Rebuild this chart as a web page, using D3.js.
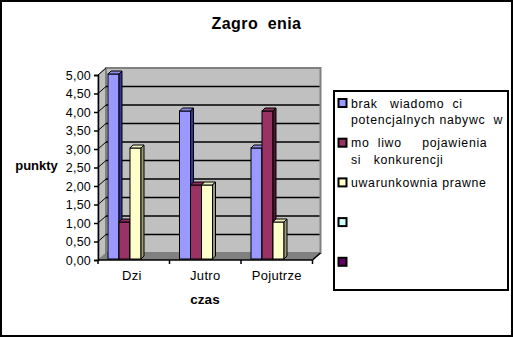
<!DOCTYPE html>
<html><head><meta charset="utf-8">
<script src="https://cdn.jsdelivr.net/npm/d3@7"></script>
<style>
html,body{margin:0;padding:0;background:#fff;}
svg{display:block;font-family:"Liberation Sans",Arial,sans-serif;}
text{white-space:pre;}
</style></head>
<body>
<svg id="c" width="513" height="337"></svg>
<script>
// ---- data ----
const title = "Zagro  enia";
const yTitle = "punkty";
const xTitle = "czas";
const categories = ["Dzi ", "Jutro", "Pojutrze"];
const seriesNames = [
  ["brak   wiadomo  ci", "potencjalnych nabywc  w"],
  ["mo  liwo     pojawienia", "si   konkurencji"],
  ["uwarunkownia prawne"],
  [""],
  [""]
];
const seriesColors = ["#9999FF", "#993366", "#FFFFCC", "#CCFFFF", "#660066"];
const seriesTop = ["#8a8ae6", "#8a2e5c", "#eeeebb", "#b8e6e6", "#5c005c"];
const seriesSide = ["#333399", "#4d1933", "#999977", "#669999", "#330033"];
const values = [
  [5, 1, 3],   // Dziś
  [4, 2, 2],   // Jutro
  [3, 4, 1]    // Pojutrze
];
// values[cat][series]
const yTicks = [0, 0.5, 1, 1.5, 2, 2.5, 3, 3.5, 4, 4.5, 5];
const fmt = v => v.toFixed(2).replace(".", ",");

// ---- layout ----
const svg = d3.select("#c");
const DX = 8, DY = -7;
const x = d3.scaleBand().domain(categories).range([98, 312.5]).padding(0);
const xs = d3.scaleBand().domain([0, 1, 2]).range([10, 43]).padding(0);
const y = d3.scaleLinear().domain([0, 5]).range([260, 75]);

// outer border
svg.append("rect").attr("x", 1).attr("y", 1).attr("width", 511).attr("height", 335)
  .attr("fill", "#fff").attr("stroke", "#000").attr("stroke-width", 2);

// title
svg.append("text").attr("x", 256.5).attr("y", 28.5).attr("text-anchor", "middle")
  .attr("font-size", 16).attr("font-weight", "bold").attr("letter-spacing", 0.4).text(title);

const x0 = x.range()[0], x1 = x.range()[1];
const yTop = y(5), yBot = y(0);

// left side wall
svg.append("polygon")
  .attr("points", [[x0, yTop], [x0 + DX, yTop + DY], [x0 + DX, yBot + DY], [x0, yBot]].join(" "))
  .attr("fill", "#c0c0c0").attr("stroke", "#808080").attr("stroke-width", 1);
// back wall
svg.append("rect").attr("x", x0 + DX).attr("y", yTop + DY)
  .attr("width", x1 - x0).attr("height", yBot - yTop)
  .attr("fill", "#c0c0c0").attr("stroke", "#808080").attr("stroke-width", 2);
// floor
svg.append("polygon")
  .attr("points", [[x0, yBot], [x0 + DX, yBot + DY], [x1 + DX, yBot + DY], [x1, yBot]].join(" "))
  .attr("fill", "#808080");

// gridlines on back wall
svg.append("g").selectAll("line").data(yTicks.filter(v => v > 0 && v < 5)).join("line")
  .attr("x1", x0 + DX).attr("x2", x1 + DX - 1)
  .attr("y1", d => y(d) + DY).attr("y2", d => y(d) + DY)
  .attr("stroke", "#000").attr("stroke-width", 1.5);
// diagonal tick lines on side wall
svg.append("g").selectAll("line").data(yTicks.filter(v => v > 0)).join("line")
  .attr("x1", x0).attr("x2", x0 + DX)
  .attr("y1", d => y(d)).attr("y2", d => y(d) + DY)
  .attr("stroke", "#000").attr("stroke-width", 1);

// bars
const bw = xs.bandwidth(), d3x = 3, d3y = -3;
const gb = svg.append("g");
categories.forEach((c, ci) => {
  values[ci].forEach((v, si) => {
    const bx = x(c) + xs(si);
    const yt = y(v) - 1, yb = yBot - 1;
    gb.append("rect").attr("x", bx).attr("y", yt).attr("width", bw).attr("height", yb - yt)
      .attr("fill", seriesColors[si]).attr("stroke", "#000").attr("stroke-width", 1);
    gb.append("polygon")
      .attr("points", [[bx, yt], [bx + d3x, yt + d3y], [bx + bw + d3x, yt + d3y], [bx + bw, yt]].join(" "))
      .attr("fill", seriesTop[si]).attr("stroke", "#000").attr("stroke-width", 1);
    gb.append("polygon")
      .attr("points", [[bx + bw, yt], [bx + bw + d3x, yt + d3y], [bx + bw + d3x, yb + d3y], [bx + bw, yb]].join(" "))
      .attr("fill", seriesSide[si]).attr("stroke", "#000").attr("stroke-width", 1);
  });
});

// y axis
const yAxis = d3.axisLeft(y).tickValues(yTicks).tickFormat(fmt).tickSize(4).tickPadding(3);
const gy = svg.append("g").attr("transform", `translate(${x0},0)`).call(yAxis);
gy.select(".domain").attr("stroke-width", 1.5);
gy.selectAll(".tick line").attr("stroke-width", 1.5);
gy.selectAll("text").attr("font-size", 12.5).attr("letter-spacing", 0.2)
  .attr("font-family", "Liberation Sans, Arial, sans-serif").attr("fill", "#000");

// x axis
const gx = svg.append("g");
gx.append("line").attr("x1", x0).attr("x2", x1).attr("y1", yBot).attr("y2", yBot)
  .attr("stroke", "#000").attr("stroke-width", 1.5);
gx.append("line").attr("x1", x1).attr("x2", x1 + DX).attr("y1", yBot).attr("y2", yBot + DY)
  .attr("stroke", "#000").attr("stroke-width", 1.5);
const bounds = categories.map(c => x(c)).concat([x1]);
gx.selectAll("line.t").data(bounds).join("line").attr("class", "t")
  .attr("x1", d => d).attr("x2", d => d).attr("y1", yBot).attr("y2", yBot + 4)
  .attr("stroke", "#000").attr("stroke-width", 1.5);
gx.selectAll("text").data(categories).join("text")
  .attr("x", d => x(d) + x.bandwidth() / 2).attr("y", 280)
  .attr("text-anchor", "middle").attr("font-size", 13).attr("letter-spacing", 0.3).text(d => d);

// axis titles
svg.append("text").attr("x", 36.5).attr("y", 170).attr("text-anchor", "middle")
  .attr("font-size", 13).attr("font-weight", "bold").text(yTitle);
svg.append("text").attr("x", 205).attr("y", 303.5).attr("text-anchor", "middle")
  .attr("font-size", 13.5).attr("font-weight", "bold").text(xTitle);

// legend
svg.append("rect").attr("x", 334).attr("y", 91).attr("width", 174).attr("height", 199)
  .attr("fill", "#fff").attr("stroke", "#000").attr("stroke-width", 2);
const lg = svg.append("g");
seriesNames.forEach((lines, i) => {
  const sy = 99 + i * 39.7;
  lg.append("rect").attr("x", 338.5).attr("y", sy).attr("width", 8).attr("height", 8)
    .attr("fill", seriesColors[i]).attr("stroke", "#000").attr("stroke-width", 2);
  lines.forEach((t, li) => {
    lg.append("text").attr("x", 351).attr("y", sy + 8.5 + li * 16.3)
      .attr("font-size", 12.3).attr("letter-spacing", 0.7).text(t);
  });
});
</script>
</body></html>
